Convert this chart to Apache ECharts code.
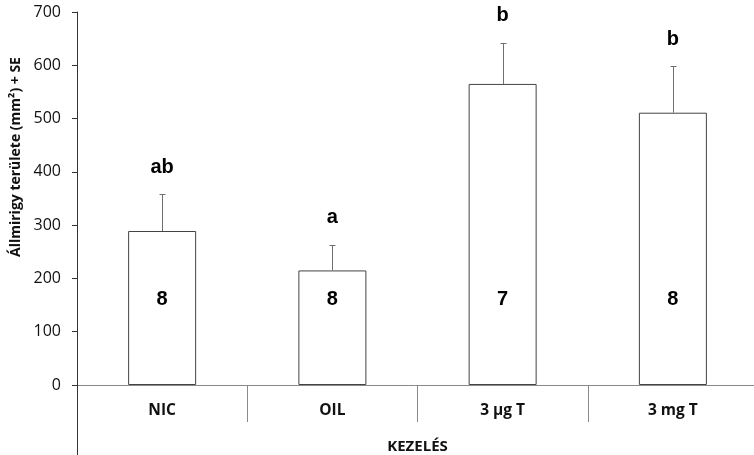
<!DOCTYPE html>
<html>
<head>
<meta charset="utf-8">
<script src="https://cdn.jsdelivr.net/npm/echarts@6/dist/echarts.min.js"></script>
<style>
  html, body { margin: 0; padding: 0; background: #fff; }
  #chart { width: 754px; height: 455px; }
</style>
</head>
<body>
<div id="chart"></div>
<script>
// Treatment groups and measured gland area (mean, mean + SE)
const categories = ['NIC', 'OIL', '3 µg T', '3 mg T'];
const means = [289, 215, 565, 511];
const errorTops = [358, 263, 642, 598];
// Significance letters and group sizes
const groupLetters = ['ab', 'a', 'b', 'b'];
const sampleSizes = [8, 8, 7, 8];
// Value axis
const yMin = 0, yMax = 700, yStep = 100;

const N_LABEL_LEVEL = 160;   // height at which group sizes are written
const LABEL_FONT = 'bold 20px "Liberation Sans", Arial, sans-serif';
const AXIS_FONT = '"Open Sans", "Noto Sans", sans-serif';
const Y_TITLE = 'Állmirigy területe (mm²) + SE';
const GRID_LEFT = 77;

const chart = echarts.init(document.getElementById('chart'), null, { renderer: 'canvas' });

const crisp = v => Math.round(v) + 0.5;

chart.setOption({
  animation: false,
  backgroundColor: '#fff',
  grid: { left: GRID_LEFT, top: 12, width: 681, height: 373, containLabel: false, outerBoundsMode: 'none' },
  xAxis: {
    type: 'category',
    data: categories,
    boundaryGap: true,
    axisLine: { lineStyle: { color: '#8a8a8a', width: 1 } },
    axisTick: { show: true, interval: 0, length: 37, lineStyle: { color: '#8a8a8a' } },
    axisLabel: { interval: 0, margin: 18, color: '#111', fontFamily: AXIS_FONT, fontWeight: 'bold', fontSize: 15.5 },
    name: 'KEZELÉS',
    nameLocation: 'middle',
    nameGap: 54,
    nameTextStyle: { color: '#111', fontFamily: AXIS_FONT, fontWeight: 'bold', fontSize: 15 }
  },
  yAxis: {
    type: 'value',
    min: yMin, max: yMax, interval: yStep,
    splitLine: { show: false },
    axisLine: { show: true, lineStyle: { color: '#333', width: 1 } },
    axisTick: { show: true, length: 5, lineStyle: { color: '#333' } },
    axisLabel: { margin: 16, color: '#111', fontFamily: AXIS_FONT, fontSize: 16 }
  },
  series: [
    {
      type: 'bar',
      data: means,
      barWidth: 68,
      itemStyle: { color: '#fff', borderColor: '#444', borderWidth: 1 },
      z: 2
    },
    {
      type: 'custom',
      data: means.map((m, i) => [i, m, errorTops[i]]),
      z: 3,
      renderItem(params, api) {
        const i = params.dataIndex;
        const base = api.coord([api.value(0), api.value(1)]);
        const top = api.coord([api.value(0), api.value(2)]);
        const nPos = api.coord([api.value(0), N_LABEL_LEVEL]);
        const x = crisp(base[0]);
        const yt = crisp(top[1]);
        const stroke = { stroke: '#6f6f6f', lineWidth: 1 };
        return {
          type: 'group',
          children: [
            { type: 'line', shape: { x1: x, y1: base[1], x2: x, y2: yt }, style: stroke },
            { type: 'line', shape: { x1: x - 3, y1: yt, x2: x + 3, y2: yt }, style: stroke },
            {
              type: 'text', x: base[0], y: top[1] - 17,
              style: { text: groupLetters[i], font: LABEL_FONT, fill: '#000', textAlign: 'center', textVerticalAlign: 'bottom' }
            },
            {
              type: 'text', x: base[0], y: nPos[1],
              style: { text: String(sampleSizes[i]), font: LABEL_FONT, fill: '#000', textAlign: 'center', textVerticalAlign: 'middle' }
            }
          ]
        };
      }
    }
  ]
});

// Rotated value-axis title, and the value axis line continuing down past the category row
const zeroY = chart.convertToPixel({ yAxisIndex: 0 }, 0);
chart.setOption({
  graphic: [
    { type: 'text', x: 16, y: 157, rotation: Math.PI / 2,
      style: { text: Y_TITLE, font: 'bold 14px ' + AXIS_FONT, fill: '#111', textAlign: 'center', textVerticalAlign: 'middle' } },
    { type: 'line', shape: { x1: crisp(GRID_LEFT), y1: zeroY, x2: crisp(GRID_LEFT), y2: 455 },
      style: { stroke: '#333', lineWidth: 1 }, z: 10 }
  ]
});
</script>
</body>
</html>
